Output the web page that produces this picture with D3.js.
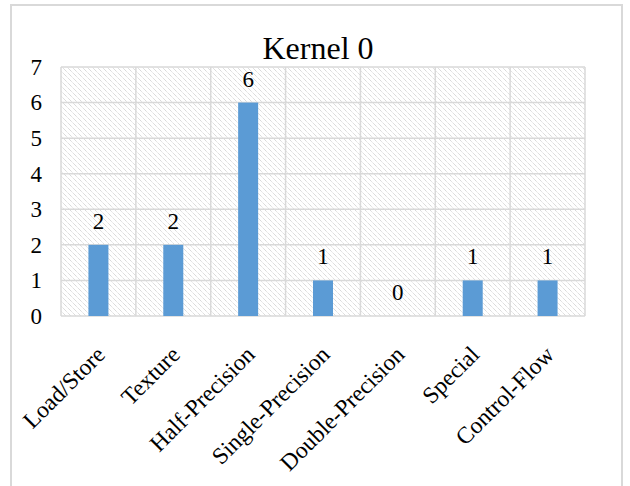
<!DOCTYPE html>
<html>
<head>
<meta charset="utf-8">
<script src="https://cdn.jsdelivr.net/npm/d3@7"></script>
<style>
  html, body { margin: 0; padding: 0; background: #fff; }
  svg { display: block; }
</style>
</head>
<body>
<svg id="chart" width="630" height="486"></svg>
<script>
const title = "Kernel 0";
const categories = ["Load/Store", "Texture", "Half-Precision", "Single-Precision", "Double-Precision", "Special", "Control-Flow"];
const counts = [2, 2, 6, 1, 0, 1, 1];
const yTicks = [0, 1, 2, 3, 4, 5, 6, 7];

const svg = d3.select("#chart");
const plot = { left: 61, top: 67, right: 585, bottom: 316 };
const serif = "'Liberation Serif', 'Times New Roman', serif";

// frame around the chart
svg.append("rect")
  .attr("x", 11).attr("y", 5)
  .attr("width", 611).attr("height", 490)
  .attr("fill", "#fff")
  .attr("stroke", "#d9d9d9").attr("stroke-width", 2);

// diagonal hatch fill for the plot area
const defs = svg.append("defs");
const pat = defs.append("pattern")
  .attr("id", "hatch")
  .attr("patternUnits", "userSpaceOnUse")
  .attr("width", 5).attr("height", 5);
pat.append("rect").attr("width", 5).attr("height", 5).attr("fill", "#fff");
pat.append("path")
  .attr("d", "M0,0 L5,5 M-1,4 L1,6 M4,-1 L6,1")
  .attr("stroke", "#d2d2d2")
  .attr("stroke-width", 1)
  .attr("stroke-dasharray", "1.2,0.8");

const x = d3.scaleBand().domain(categories).range([plot.left, plot.right]).paddingInner(0).paddingOuter(0);
const y = d3.scaleLinear().domain([0, 7]).range([plot.bottom, plot.top]);

svg.append("rect")
  .attr("x", plot.left).attr("y", plot.top)
  .attr("width", plot.right - plot.left).attr("height", plot.bottom - plot.top)
  .attr("fill", "url(#hatch)");

// gridlines: horizontal at each tick, vertical between categories
const grid = svg.append("g").attr("stroke", "#d9d9d9").attr("stroke-width", 1.5);
grid.selectAll("line.h").data(yTicks).join("line")
  .attr("class", "h")
  .attr("x1", plot.left).attr("x2", plot.right)
  .attr("y1", d => y(d)).attr("y2", d => y(d));
const bounds = categories.map(c => x(c)).concat([plot.right]);
grid.selectAll("line.v").data(bounds).join("line")
  .attr("class", "v")
  .attr("x1", d => d).attr("x2", d => d)
  .attr("y1", plot.top).attr("y2", plot.bottom);

// bars
const barW = 20;
svg.append("g").selectAll("rect").data(categories).join("rect")
  .attr("x", (c) => x(c) + x.bandwidth() / 2 - barW / 2)
  .attr("width", barW)
  .attr("y", (c, i) => y(counts[i]))
  .attr("height", (c, i) => y(0) - y(counts[i]))
  .attr("fill", "#5b9bd5");

// value labels
svg.append("g").selectAll("text").data(categories).join("text")
  .attr("x", c => x(c) + x.bandwidth() / 2)
  .attr("y", (c, i) => y(counts[i]) - 16)
  .attr("text-anchor", "middle")
  .attr("font-family", serif)
  .attr("font-size", 23)
  .attr("fill", "#000")
  .text((c, i) => counts[i]);

// y axis labels
const yAxis = d3.axisLeft(y).tickValues(yTicks).tickSize(0).tickPadding(12).tickFormat(d3.format("d"));
const ya = svg.append("g").attr("transform", `translate(${plot.left - 7},0)`).call(yAxis);
ya.select(".domain").remove();
ya.selectAll("text")
  .attr("font-family", serif)
  .attr("font-size", 23)
  .attr("fill", "#000");

// x axis labels, rotated
const xAxis = d3.axisBottom(x).tickSize(0).tickPadding(0);
const xa = svg.append("g").attr("transform", `translate(0,${plot.bottom})`).call(xAxis);
xa.select(".domain").remove();
xa.selectAll("text")
  .attr("font-family", serif)
  .attr("font-size", 23.5)
  .attr("fill", "#000")
  .attr("text-anchor", "end")
  .attr("dy", "0")
  .attr("transform", "translate(8,40) rotate(-45)");

// title
svg.append("text")
  .attr("x", 318).attr("y", 59)
  .attr("text-anchor", "middle")
  .attr("font-family", serif)
  .attr("font-size", 32)
  .attr("fill", "#000")
  .text(title);
</script>
</body>
</html>
